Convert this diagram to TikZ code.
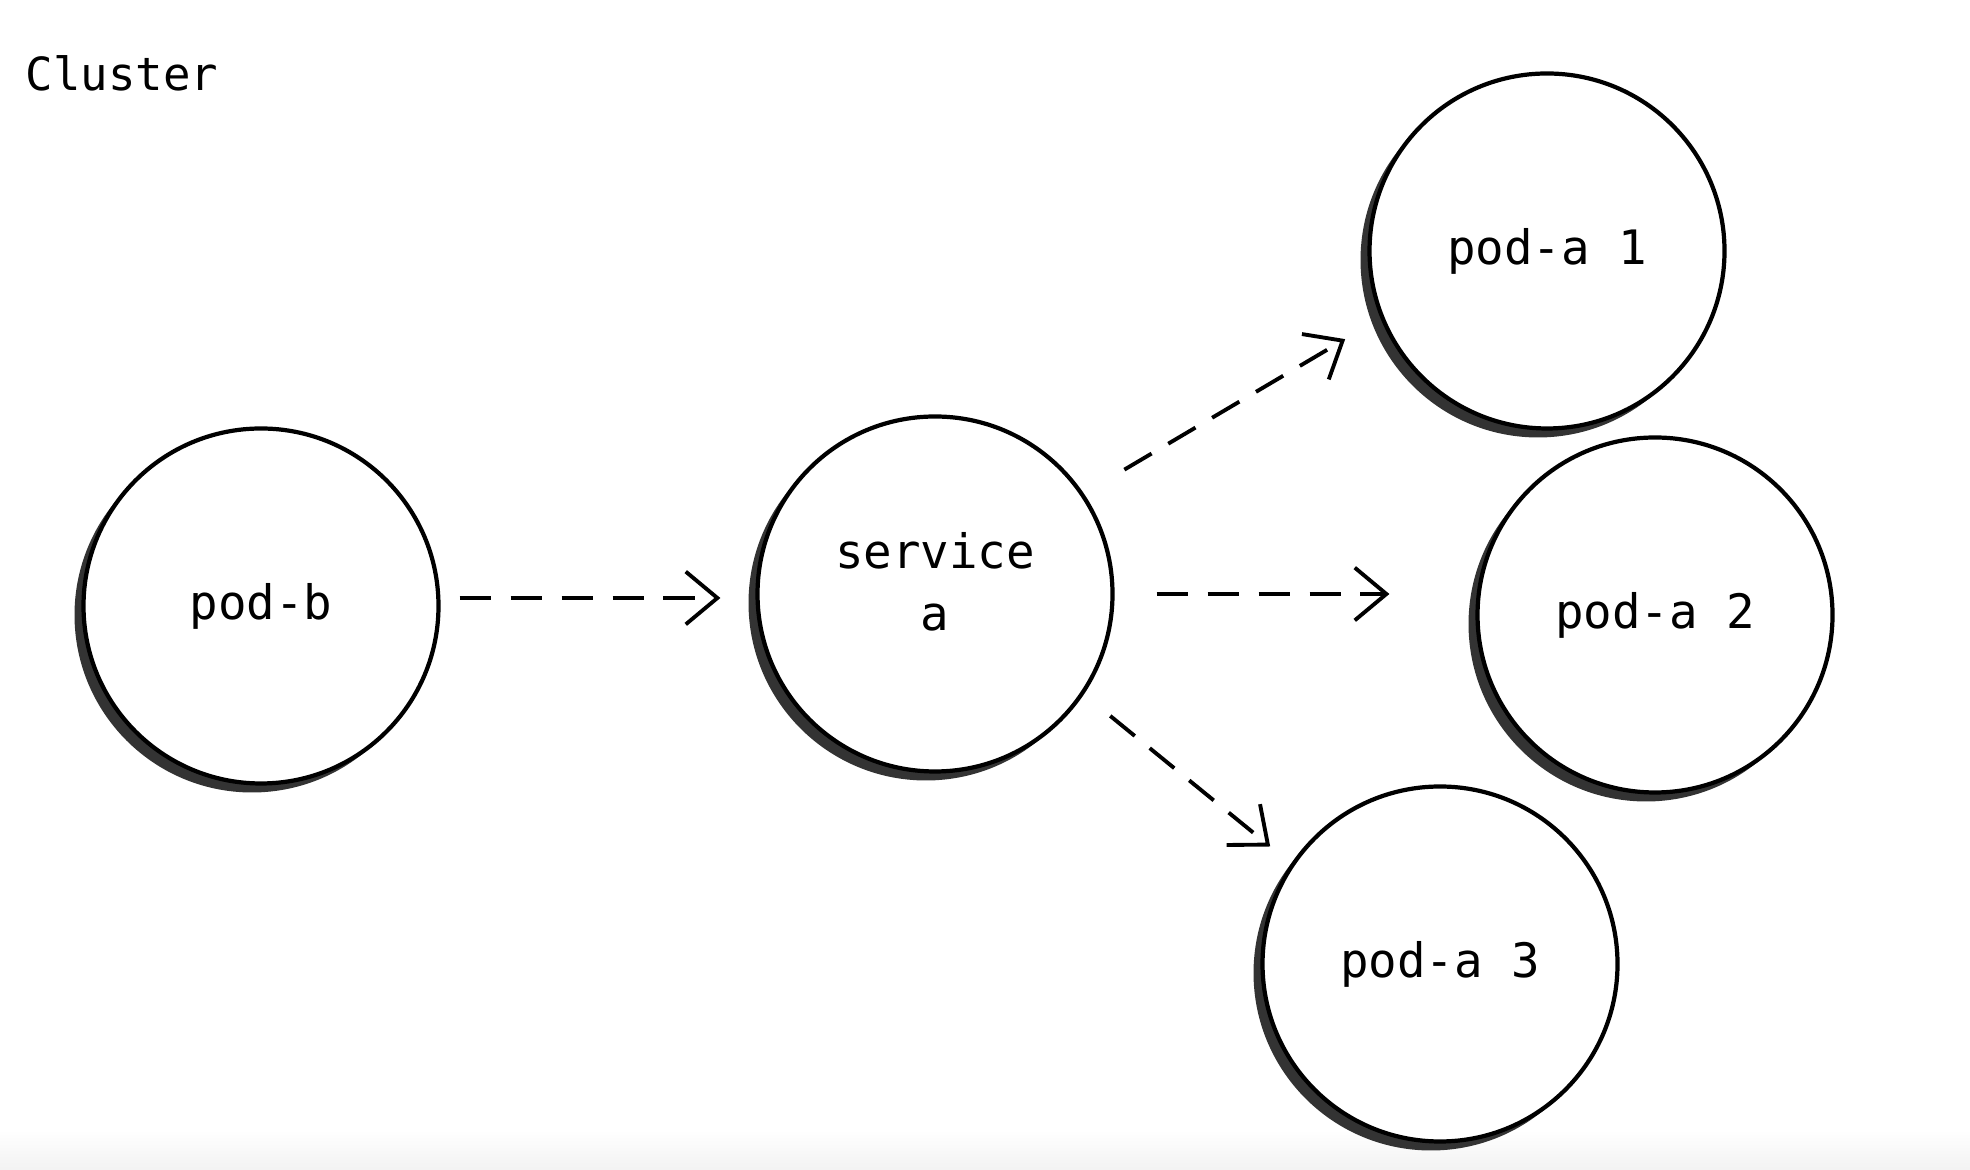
\documentclass[tikz,border=0pt]{standalone}
\usepackage{fontspec}
\setmonofont{DejaVu Sans Mono}
\usetikzlibrary{arrows.meta, positioning, shadows}
\tikzset{pod/.style={circle,draw,line width=1.2pt,fill=white,minimum size=3.55cm,inner sep=0pt,align=center,
    font=\ttfamily\fontsize{13.5}{16}\selectfont,
    drop shadow={shadow xshift=-0.09cm,shadow yshift=-0.09cm,fill=black!80,opacity=1}},
  flow/.style={->,line width=1.1pt,dash pattern=on 9pt off 5.5pt}}

\begin{document}
\begin{tikzpicture}[>={Straight Barb[length=9pt,width=15pt,line width=1.1pt]}, baseline]
    \useasboundingbox (0,0) rectangle (19.7,11.7);
    \shade[top color=white, bottom color=black!5] (0,0) rectangle (19.7,0.4);
    \node[anchor=base west, inner sep=0pt, font=\ttfamily\fontsize{13}{16}\selectfont](cluster) at (0.25,10.79) {Cluster};

    \node[pod](pb) at (2.61,5.64) {pod-b};
    \node[pod](svc) at (9.35,5.76) {service\\[1.5pt]a\\[-9pt]};
    \node[pod](pa1) at (15.47,9.19) {pod-a 1};
    \node[pod](pa2) at (16.55,5.55) {pod-a 2};
    \node[pod](pa3) at (14.40,2.06) {pod-a 3};

    \draw[flow, shorten <=0.19cm, shorten >=0.35cm] ([yshift=0.08cm]pb.east) -- ([yshift=0.08cm]pb.east -| svc.west);
    \draw[flow, shorten <=0.47cm, shorten >=0.41cm] (svc.34) -- (pa1.202);
    \draw[flow, shorten <=0.42cm, shorten >=0.86cm] (svc.east) -- (svc.east -| pa2.west);
    \draw[flow, shorten <=0.34cm, shorten >=0.27cm] (svc.-34) -- (pa3.146);
\end{tikzpicture}
\end{document}
